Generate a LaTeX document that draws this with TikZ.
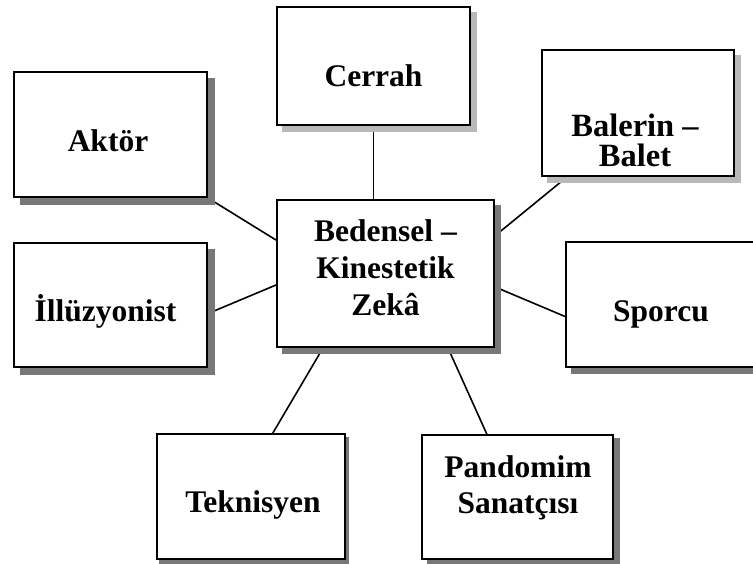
\documentclass[tikz,border=0pt]{standalone}
\usepackage{fontspec}
\setmainfont{Liberation Serif}
\usetikzlibrary{backgrounds,calc}
\definecolor{shdark}{RGB}{120,120,120}
\definecolor{shlight}{RGB}{185,185,185}
\definecolor{shmid}{RGB}{120,120,120}
\tikzset{
  box/.style={draw=black, line width=2pt, fill=white, inner sep=0pt},
  lbl/.style={inner sep=0pt, anchor=base, align=center,
    font=\bfseries\fontsize{31.5}{37}\selectfont},
  link/.style={draw=black, line width=1.6pt},
}
% shadow behind a node: colour, x offset, y offset (downwards)
\newcommand{\boxshadow}[4]{%
  \fill[#2] ($(#1.south west)+(#3,#4)$) rectangle ($(#1.north east)+(#3,#4)$);}
\begin{document}
\begin{tikzpicture}[x=1pt, y=-1pt]
  \useasboundingbox (0,0) rectangle (753,563);
  \clip (0,0) rectangle (753,563);

  % boxes
  \node[box, minimum width=217pt, minimum height=147pt] (ctr) at (385.5,273.5) {};
  \node[box, minimum width=193pt, minimum height=118pt] (cer) at (373.5,66) {};
  \node[box, minimum width=193pt, minimum height=125pt] (akt) at (110.5,134.5) {};
  \node[box, minimum width=192pt, minimum height=126pt] (bal) at (638,113) {};
  \node[box, minimum width=193pt, minimum height=124pt] (ill) at (110.5,305) {};
  \node[box, minimum width=193pt, minimum height=125pt] (spo) at (662.5,304.5) {};
  \node[box, minimum width=188pt, minimum height=125pt] (tek) at (251,496.5) {};
  \node[box, minimum width=191pt, minimum height=124pt] (pan) at (517.5,497) {};

  % labels (multi-line labels sit on the baseline of their last line)
  \node[lbl] (ctrT) at (385.5,315) {Bedensel –\\Kinestetik\\Zekâ};
  \node[lbl] (cerT) at (373.5,86) {Cerrah};
  \node[lbl] (aktT) at (108,151) {Aktör};
  \node[lbl, font=\bfseries\fontsize{32.5}{30}\selectfont] (balT) at (635,166) {Balerin –\\Balet};
  \node[lbl] (illT) at (105.5,321) {İllüzyonist};
  \node[lbl] (spoT) at (661,321) {Sporcu};
  \node[lbl] (tekT) at (253,512) {Teknisyen};
  \node[lbl, font=\bfseries\fontsize{31.5}{36}\selectfont] (panT) at (518,513) {Pandomim\\Sanatçısı};

  \begin{pgfonlayer}{background}
    % connectors
    \draw[link] (cer.south) -- (cer.south |- ctr.north);
    \draw[link] (akt.south east) -- (ctr.163);
    \draw[link] (ill.-5) -- (ctr.186);
    \draw[link] (bal.222) -- (ctr.19);
    \draw[link] (spo.187) -- (ctr.-7);
    \draw[link] (tek.71) -- (ctr.230);
    \draw[link] (pan.116) -- (ctr.-50);
    % shadows
    \boxshadow{ctr}{shdark}{6}{6}
    \boxshadow{cer}{shlight}{6}{6}
    \boxshadow{akt}{shdark}{7}{7}
    \boxshadow{bal}{shlight}{6}{6}
    \boxshadow{ill}{shdark}{7}{7}
    \boxshadow{spo}{shdark}{6}{6}
    \boxshadow{tek}{shmid}{3}{4}
    \boxshadow{pan}{shmid}{6}{4}
  \end{pgfonlayer}
\end{tikzpicture}
\end{document}
